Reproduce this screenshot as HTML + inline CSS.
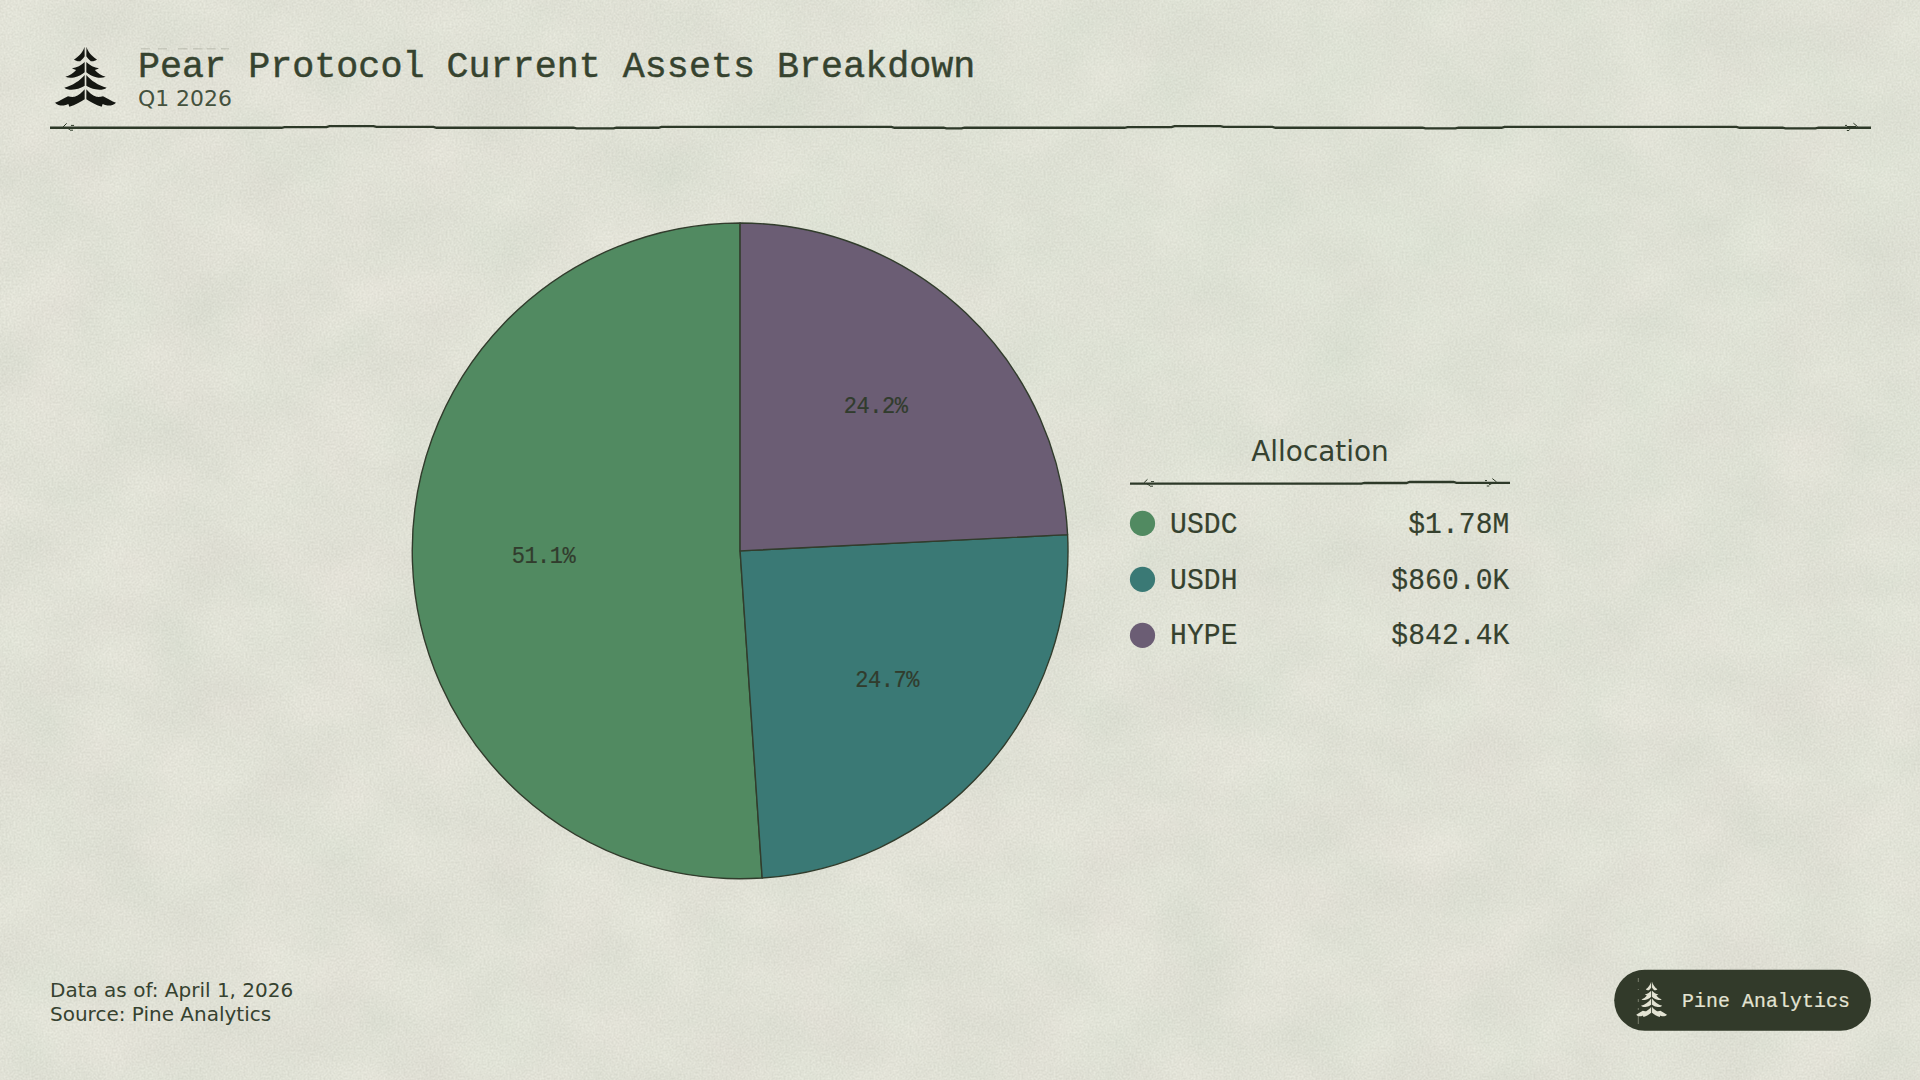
<!DOCTYPE html>
<html lang="en">
<head>
<meta charset="utf-8">
<title>Pear Protocol Current Assets Breakdown</title>
<style>
  html, body { margin: 0; padding: 0; background: #dfe0d4; }
  body { width: 1920px; height: 1080px; overflow: hidden; position: relative; }
  svg { position: absolute; left: 0; top: 0; display: block; }
  .mono { font-family: "Liberation Mono", "DejaVu Sans Mono", monospace; }
  .sans { font-family: "DejaVu Sans", "Liberation Sans", sans-serif; }
  .title { font-size: 36.7px; letter-spacing: 0.02px; fill: #36432f; stroke: #36432f; stroke-width: 0.45px; }
  .sub { font-size: 21.9px; fill: #44513d; }
  .pct { font-size: 22px; letter-spacing: -0.45px; fill: #313c2d; stroke: #313c2d; stroke-width: 0.2px; }
  .leg { font-size: 28px; letter-spacing: 0.1px; fill: #35412e; stroke: #35412e; stroke-width: 0.2px; }
  .legtitle { font-size: 27.9px; fill: #364230; }
  .foot { font-size: 20px; fill: #364230; }
  .badge { font-size: 19.8px; letter-spacing: 0.13px; fill: #e3e3d3; stroke: #e3e3d3; stroke-width: 0.2px; }
</style>
</head>
<body>
<svg id="chart" width="1920" height="1080" viewBox="0 0 1920 1080">
  <defs>
    <filter id="paper" x="0" y="0" width="1920" height="1080" filterUnits="userSpaceOnUse" color-interpolation-filters="sRGB">
      <feTurbulence type="fractalNoise" baseFrequency="0.013 0.015" numOctaves="5" seed="11" result="lo"/>
      <feColorMatrix in="lo" type="matrix" result="loC"
        values="0.046 -0.026 0 0 0.8670
                0.043  0.000 0 0 0.8593
                0.043 -0.013 0 0 0.8210
                0 0 0 0 1"/>
      <feTurbulence type="fractalNoise" baseFrequency="0.5" numOctaves="2" seed="4" result="hi"/>
      <feColorMatrix in="hi" type="matrix" result="hiC"
        values="0.10 0 0 0 0.45
                0.10 0 0 0 0.45
                0.10 0 0 0 0.45
                0 0 0 0 1"/>
      <feComposite in="loC" in2="hiC" operator="arithmetic" k1="0" k2="1" k3="1" k4="-0.5"/>
    </filter>
    <radialGradient id="tint" gradientUnits="userSpaceOnUse" cx="1350" cy="220" r="1000" gradientTransform="translate(1350,220) scale(1,0.62) translate(-1350,-220)">
      <stop offset="0" stop-color="#cfe6cf" stop-opacity="0.12"/>
      <stop offset="0.55" stop-color="#cfe6cf" stop-opacity="0.06"/>
      <stop offset="1" stop-color="#cfe6cf" stop-opacity="0"/>
    </radialGradient>
    <path id="treehalf" d="M578 103 C560 170 500 250 420 292 C440 312 480 322 512 318 C540 296 565 270 580 245 Z M580 330 C530 380 460 415 390 425 C410 438 430 445 452 450 C410 500 350 535 290 552 C330 570 380 570 420 562 C490 545 545 515 580 482 Z M580 525 C510 610 400 680 276 715 C310 745 380 752 440 740 C500 728 550 705 580 685 Z M580 740 C540 790 490 830 430 852 C395 858 360 852 330 842 C260 880 200 915 135 940 C170 975 230 990 280 980 C300 975 320 968 335 960 L350 1002 C440 975 520 930 580 890 Z"/>
  </defs>

  <!-- paper texture -->
  <rect x="0" y="0" width="1920" height="1080" fill="#dfe0d4" filter="url(#paper)"/>
  <rect x="0" y="0" width="1920" height="1080" fill="url(#tint)"/>

  <!-- header -->
  <g fill="#141611" transform="translate(46,40) scale(0.066667)">
    <use href="#treehalf"/>
    <use href="#treehalf" transform="translate(1185,0) scale(-1,1)"/>
  </g>
  <text x="138" y="76.8" class="mono title">Pear Protocol Current Assets Breakdown</text>
  <text x="138" y="106" class="sans sub">Q1 2026</text>
  <path d="M141 48.8 h9 M158 48.8 h9 M178 48.8 h9.5 M193 48.8 h9.5 M206.7 48.8 h9 M221 48.8 h8" stroke="#a9ab9d" stroke-width="1.4" opacity="0.45" fill="none"/>
  <path d="M50 127.75 L281.5 127.75 L284.5 127.05 L326.5 127.05 L329.5 126.05 L373.5 126.05 L376.5 126.85 L433.5 126.85 L436.5 127.75 L573.5 127.75 L576.5 128.45 L613.5 128.45 L616.5 127.75 L658.5 127.75 L661.5 126.85 L891.5 126.85 L894.5 127.75 L943.5 127.75 L946.5 128.45 L961.5 128.45 L964.5 127.75 L1124.5 127.75 L1127.5 127.05 L1171.5 127.05 L1174.5 126.05 L1220.5 126.05 L1223.5 126.85 L1272.5 126.85 L1275.5 127.75 L1422.5 127.75 L1425.5 128.45 L1455.5 128.45 L1458.5 127.75 L1501.5 127.75 L1504.5 126.85 L1736.5 126.85 L1739.5 127.75 L1782.5 127.75 L1785.5 128.45 L1815.5 128.45 L1818.5 127.75 L1871 127.75" stroke="#2d3928" stroke-width="2.3" fill="none"/>
  <path d="M63 127 L66.7 123.3 M71 125.4 h3 M70 130.2 h3 M67 128 l3 1.6" stroke="#2e3a29" stroke-width="1" fill="none"/>
  <path d="M1853.4 123.2 L1857.6 126.6 M1845 125.4 h2 M1847 126.5 h9 M1846.8 130.5 h2.4 M1849 129.2 l2.5 -1" stroke="#2e3a29" stroke-width="1" fill="none"/>

  <!-- pie -->
  <g stroke="#313c2c" stroke-width="1.4" stroke-linejoin="round">
    <path d="M740.10 550.90L740.10 223.00A327.9 327.9 0 1 0 762.17 878.06Z" fill="#518a61"/>
    <path d="M740.10 550.90L762.17 878.06A327.9 327.9 0 0 0 1067.60 534.65Z" fill="#3a7975"/>
    <path d="M740.10 550.90L1067.60 534.65A327.9 327.9 0 0 0 740.10 223.00Z" fill="#6b5d74"/>
  </g>
  <g transform="scale(1,1.06)">
    <text x="543.5" y="530.7" class="mono pct" text-anchor="middle">51.1%</text>
    <text x="887.1" y="647.8" class="mono pct" text-anchor="middle">24.7%</text>
    <text x="875.7" y="390.0" class="mono pct" text-anchor="middle">24.2%</text>
  </g>

  <!-- legend -->
  <text x="1320" y="461" class="sans legtitle" text-anchor="middle">Allocation</text>
  <path d="M1130 483.70 L1361.5 483.70 L1364.5 483.00 L1406.5 483.00 L1409.5 482.00 L1453.5 482.00 L1456.5 482.80 L1510 482.80" stroke="#2d3928" stroke-width="2.3" fill="none"/>
  <path d="M1144 482.7 L1147.5 479.3 M1151 481.6 h3 M1150 486.2 h3 M1147 484 l3 1.6" stroke="#2e3a29" stroke-width="1" fill="none"/>
  <path d="M1492.4 478.6 L1496.6 482 M1485 480.6 h2 M1486.8 486 h2.4 M1489 484.8 l2.5 -1" stroke="#2e3a29" stroke-width="1" fill="none"/>
  <circle cx="1142.5" cy="523.4" r="12.6" fill="#518a61"/>
  <circle cx="1142.5" cy="579.4" r="12.6" fill="#3a7975"/>
  <circle cx="1142.5" cy="635.4" r="12.6" fill="#6b5d74"/>
  <g transform="scale(1,1.05)">
    <text x="1170" y="507.2" class="mono leg">USDC</text>
    <text x="1170" y="560.5" class="mono leg">USDH</text>
    <text x="1170" y="613.8" class="mono leg">HYPE</text>
    <text x="1509.5" y="507.2" class="mono leg" text-anchor="end">$1.78M</text>
    <text x="1509.5" y="560.5" class="mono leg" text-anchor="end">$860.0K</text>
    <text x="1509.5" y="613.8" class="mono leg" text-anchor="end">$842.4K</text>
  </g>

  <!-- footer -->
  <text x="50" y="997" class="sans foot">Data as of: April 1, 2026</text>
  <text x="50" y="1021" class="sans foot">Source: Pine Analytics</text>

  <!-- badge -->
  <rect x="1614.2" y="969.8" width="256.8" height="61" rx="30.5" fill="#323a2a"/>
  <path d="M1638.3 978 V1024" stroke="#c9cbb8" stroke-width="0.8" stroke-dasharray="4 7 1 9 3 6 2 5 9 0" opacity="0.6" fill="none"/>
  <g fill="#e3e3d3" transform="translate(1631.7,977.8) scale(0.0336,0.0392)">
    <use href="#treehalf"/>
    <use href="#treehalf" transform="translate(1185,0) scale(-1,1)"/>
  </g>
  <text x="1682" y="1006.5" class="mono badge">Pine Analytics</text>
</svg>
</body>
</html>
